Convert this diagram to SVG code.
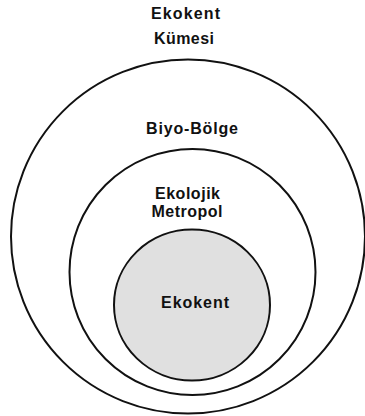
<svg xmlns="http://www.w3.org/2000/svg" width="365" height="416" viewBox="0 0 365 416">
<style>
.c{fill:#fff;stroke:#111;stroke-width:2}
.g{fill:#e0e0e0;stroke:#111;stroke-width:2}
text{font-family:"Liberation Sans",Arial,sans-serif;font-size:16px;font-weight:bold;fill:#111;text-anchor:middle}
</style>
<rect width="365" height="416" fill="#fff"/>
<g id="ekokent-kumesi">
<circle class="c" cx="188" cy="236.5" r="177"/>
<text x="185.5" y="18.5" textLength="69" lengthAdjust="spacing">Ekokent</text>
<text x="184" y="43.5" textLength="60" lengthAdjust="spacing">Kümesi</text>
</g>
<g id="biyo-bolge">
<text x="192" y="133.5" textLength="92" lengthAdjust="spacing">Biyo-Bölge</text>
</g>
<g id="ekolojik-metropol">
<circle class="c" cx="192.5" cy="272" r="123"/>
<text x="187.5" y="198.5" textLength="65" lengthAdjust="spacing">Ekolojik</text>
<text x="187" y="216.5" textLength="71" lengthAdjust="spacing">Metropol</text>
</g>
<g id="ekokent">
<ellipse class="g" cx="192" cy="305" rx="78" ry="75.5"/>
<text x="195" y="308" textLength="68" lengthAdjust="spacing">Ekokent</text>
</g>
<g id="connectors"/>
</svg>
